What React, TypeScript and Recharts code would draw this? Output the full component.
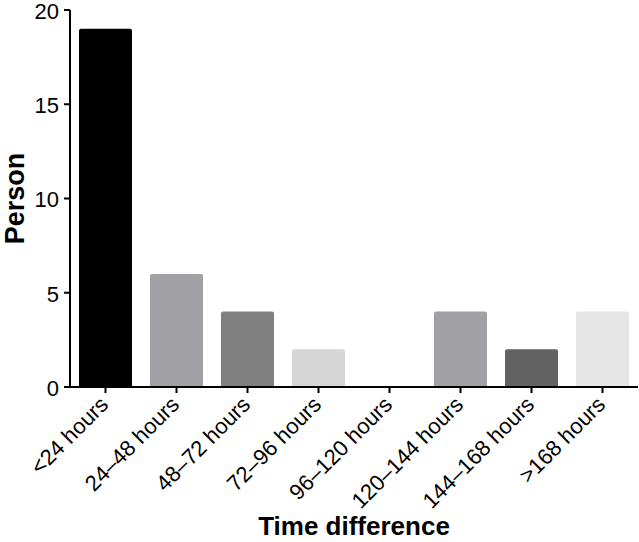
import { BarChart, Bar, Cell, XAxis, YAxis } from "recharts";

const categories = [
  "<24 hours",
  "24–48 hours",
  "48–72 hours",
  "72–96 hours",
  "96–120 hours",
  "120–144 hours",
  "144–168 hours",
  ">168 hours",
];
const persons = [19, 6, 4, 2, 0, 4, 2, 4];
const barColors = ["#000000", "#a1a0a4", "#808080", "#d6d6d6", "#c0c0c0", "#a1a0a4", "#626262", "#e6e6e6"];
const yTicks = [0, 5, 10, 15, 20];

const FONT = "'Liberation Sans', Arial, sans-serif";

const data = categories.map((name, i) => ({ name, value: persons[i] }));

function RotatedTick(props: any) {
  const { x, y, payload } = props;
  return (
    <text
      x={x + 4}
      y={y + 11}
      transform={`rotate(-45, ${x + 4}, ${y + 11})`}
      textAnchor="end"
      fontSize={22}
      fontFamily={FONT}
      fill="#000"
    >
      {payload.value}
    </text>
  );
}

export default function App() {
  return (
    <div style={{ position: "fixed", left: 0, top: 0, background: "#fff" }}>
      <BarChart
        width={639}
        height={542}
        data={data}
        margin={{ top: 10, right: 1, left: 0, bottom: 0 }}
        barCategoryGap={9}
      >
        <XAxis
          dataKey="name"
          height={155}
          interval={0}
          tick={<RotatedTick />}
          tickSize={6}
          axisLine={{ stroke: "#000", strokeWidth: 2 }}
          tickLine={{ stroke: "#000", strokeWidth: 2 }}
          label={{
            value: "Time difference",
            position: "insideBottom",
            offset: 7,
            fontSize: 26,
            fontWeight: "bold",
            fontFamily: FONT,
            fill: "#000",
          }}
        />
        <YAxis
          width={70}
          domain={[0, 20]}
          ticks={yTicks}
          interval={0}
          tickSize={6}
          tickMargin={5}
          axisLine={{ stroke: "#000", strokeWidth: 2 }}
          tickLine={{ stroke: "#000", strokeWidth: 2 }}
          tick={{ fontSize: 22, fontFamily: FONT, fill: "#000", dy: 1 }}
          label={{
            value: "Person",
            angle: -90,
            position: "insideLeft",
            offset: 14,
            style: { textAnchor: "middle" },
            fontSize: 27,
            fontWeight: "bold",
            fontFamily: FONT,
            fill: "#000",
          }}
        />
        <Bar dataKey="value" radius={[2, 2, 0, 0]} isAnimationActive={false}>
          {data.map((d, i) => (
            <Cell key={d.name} fill={barColors[i]} />
          ))}
        </Bar>
      </BarChart>
    </div>
  );
}
